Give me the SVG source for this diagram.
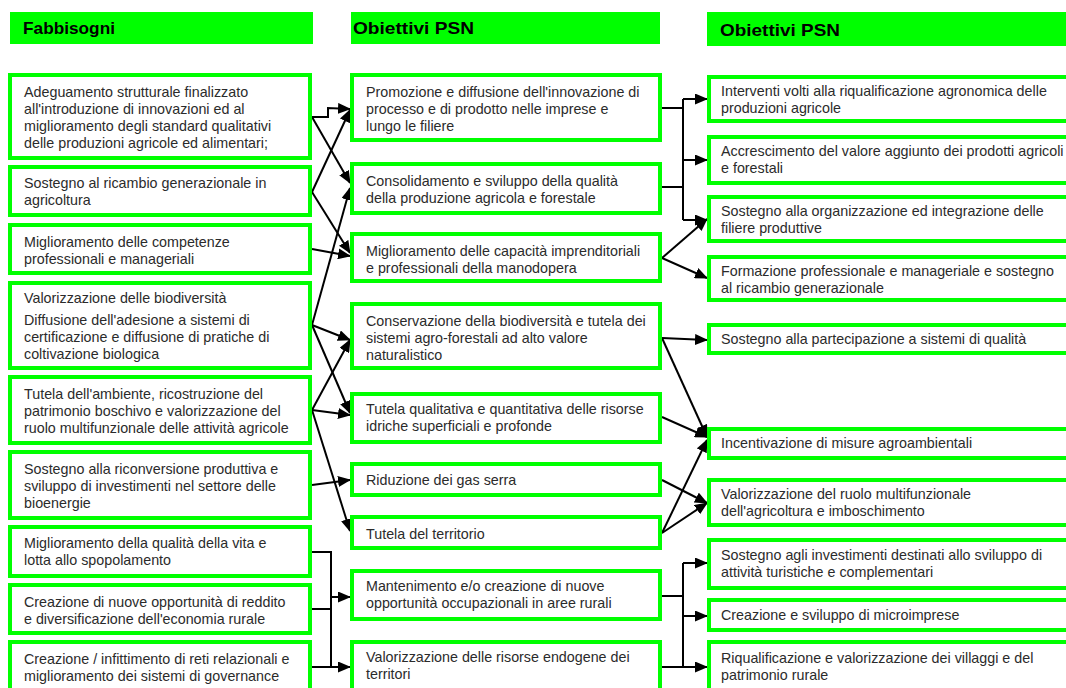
<svg xmlns="http://www.w3.org/2000/svg" width="1066" height="688" viewBox="0 0 1066 688">
<style>
.hdr{fill:#00ff00;stroke:none}
.ht{font-family:"Liberation Sans",Arial,sans-serif;font-weight:bold;font-size:17px;fill:#000}
.box{fill:#fff;stroke:#00ff00;stroke-width:4}
.t{font-family:"Liberation Sans",Arial,sans-serif;font-size:14.3px;fill:#2b2b2b}
.c{fill:none;stroke:#000;stroke-width:2}
.a{marker-end:url(#ah)}
</style>
<defs>
<marker id="ah" markerUnits="userSpaceOnUse" markerWidth="13" markerHeight="11" refX="12" refY="5.5" orient="auto">
<path d="M0,0 L13,5.5 L0,11 Z" fill="#000"/>
</marker>
</defs>
<rect width="1066" height="688" fill="#fff"/>
<g id="headers">
<rect class="hdr" x="10" y="12" width="303" height="32"/>
<text class="ht" x="23" y="34" textLength="92" lengthAdjust="spacingAndGlyphs">Fabbisogni</text>
<rect class="hdr" x="351" y="12" width="309" height="32"/>
<text class="ht" x="353" y="34" textLength="121" lengthAdjust="spacingAndGlyphs">Obiettivi PSN</text>
<rect class="hdr" x="707" y="12" width="370" height="34"/>
<text class="ht" x="720" y="36" textLength="120" lengthAdjust="spacingAndGlyphs">Obiettivi PSN</text>
</g>
<g id="connectors">
<polyline class="c a" points="312,117 328,117 328,108 350,109"/>
<line class="c a" x1="312" y1="192" x2="350" y2="110"/>
<line class="c a" x1="312" y1="117" x2="350" y2="183"/>
<line class="c a" x1="312" y1="325" x2="350" y2="188"/>
<line class="c a" x1="312" y1="192" x2="350" y2="253"/>
<line class="c a" x1="312" y1="249" x2="350" y2="256"/>
<line class="c a" x1="312" y1="325" x2="350" y2="340"/>
<line class="c a" x1="312" y1="325" x2="350" y2="413"/>
<line class="c a" x1="312" y1="410" x2="350" y2="340"/>
<line class="c a" x1="312" y1="410" x2="350" y2="415"/>
<line class="c a" x1="312" y1="410" x2="350" y2="531"/>
<line class="c a" x1="312" y1="485" x2="350" y2="480"/>
<polyline class="c" points="312,552 331,552 331,667"/>
<line class="c" x1="312" y1="609" x2="331" y2="609"/>
<line class="c a" x1="312" y1="667" x2="350" y2="667"/>
<line class="c a" x1="331" y1="597" x2="350" y2="597"/>
<line class="c" x1="662" y1="108" x2="683" y2="108"/>
<line class="c" x1="662" y1="187" x2="683" y2="187"/>
<line class="c" x1="683" y1="99" x2="683" y2="220"/>
<line class="c a" x1="683" y1="99" x2="707" y2="99"/>
<line class="c a" x1="683" y1="160" x2="707" y2="160"/>
<line class="c a" x1="683" y1="220" x2="707" y2="220"/>
<line class="c a" x1="662" y1="258" x2="707" y2="219"/>
<line class="c a" x1="662" y1="258" x2="707" y2="278"/>
<line class="c a" x1="662" y1="338" x2="707" y2="340"/>
<line class="c a" x1="662" y1="338" x2="707" y2="437"/>
<line class="c a" x1="662" y1="417" x2="707" y2="437"/>
<line class="c a" x1="662" y1="480" x2="707" y2="503"/>
<line class="c a" x1="662" y1="533" x2="707" y2="440"/>
<line class="c a" x1="662" y1="533" x2="707" y2="503"/>
<line class="c" x1="662" y1="596" x2="683" y2="596"/>
<line class="c" x1="683" y1="563" x2="683" y2="667"/>
<line class="c a" x1="662" y1="667" x2="707" y2="667"/>
<line class="c a" x1="683" y1="563" x2="707" y2="563"/>
<line class="c a" x1="683" y1="616" x2="707" y2="616"/>
</g>
<g id="L1"><rect class="box" x="10" y="75" width="300" height="83"/><text class="t" x="24" y="97">Adeguamento strutturale finalizzato</text><text class="t" x="24" y="114">all'introduzione di innovazioni ed al</text><text class="t" x="24" y="131">miglioramento degli standard qualitativi</text><text class="t" x="24" y="148">delle produzioni agricole ed alimentari;</text></g>
<g id="L2"><rect class="box" x="10" y="167" width="300" height="48"/><text class="t" x="24" y="188">Sostegno al ricambio generazionale in</text><text class="t" x="24" y="205">agricoltura</text></g>
<g id="L3"><rect class="box" x="10" y="225" width="300" height="48"/><text class="t" x="24" y="247">Miglioramento delle competenze</text><text class="t" x="24" y="264">professionali e manageriali</text></g>
<g id="L4"><rect class="box" x="10" y="283" width="300" height="85"/><text class="t" x="24" y="303">Valorizzazione delle biodiversità</text><text class="t" x="24" y="325">Diffusione dell'adesione a sistemi di</text><text class="t" x="24" y="342">certificazione e diffusione di pratiche di</text><text class="t" x="24" y="359">coltivazione biologica</text></g>
<g id="L5"><rect class="box" x="10" y="377" width="300" height="66"/><text class="t" x="24" y="399">Tutela dell'ambiente, ricostruzione del</text><text class="t" x="24" y="416">patrimonio boschivo e valorizzazione del</text><text class="t" x="24" y="433">ruolo multifunzionale delle attività agricole</text></g>
<g id="L6"><rect class="box" x="10" y="452" width="300" height="66"/><text class="t" x="24" y="474">Sostegno alla riconversione produttiva e</text><text class="t" x="24" y="491">sviluppo di investimenti nel settore delle</text><text class="t" x="24" y="508">bioenergie</text></g>
<g id="L7"><rect class="box" x="10" y="527" width="300" height="49"/><text class="t" x="24" y="548">Miglioramento della qualità della vita e</text><text class="t" x="24" y="565">lotta allo spopolamento</text></g>
<g id="L8"><rect class="box" x="10" y="585" width="300" height="48"/><text class="t" x="24" y="607">Creazione di nuove opportunità di reddito</text><text class="t" x="24" y="624">e diversificazione dell'economia rurale</text></g>
<g id="L9"><rect class="box" x="10" y="642" width="300" height="60"/><text class="t" x="24" y="664">Creazione / infittimento di reti relazionali e</text><text class="t" x="24" y="681">miglioramento dei sistemi di governance</text></g>
<g id="M1"><rect class="box" x="352" y="75" width="308" height="65"/><text class="t" x="366" y="97">Promozione e diffusione dell'innovazione di</text><text class="t" x="366" y="114">processo e di prodotto nelle imprese e</text><text class="t" x="366" y="131">lungo le filiere</text></g>
<g id="M2"><rect class="box" x="352" y="164" width="308" height="49"/><text class="t" x="366" y="186">Consolidamento e sviluppo della qualità</text><text class="t" x="366" y="203">della produzione agricola e forestale</text></g>
<g id="M3"><rect class="box" x="352" y="234" width="308" height="47"/><text class="t" x="366" y="256">Miglioramento delle capacità imprenditoriali</text><text class="t" x="366" y="273">e professionali della manodopera</text></g>
<g id="M4"><rect class="box" x="352" y="304" width="308" height="64"/><text class="t" x="366" y="326">Conservazione della biodiversità e tutela dei</text><text class="t" x="366" y="343">sistemi agro-forestali ad alto valore</text><text class="t" x="366" y="360">naturalistico</text></g>
<g id="M5"><rect class="box" x="352" y="394" width="308" height="48"/><text class="t" x="366" y="414">Tutela qualitativa e quantitativa delle risorse</text><text class="t" x="366" y="431">idriche superficiali e profonde</text></g>
<g id="M6"><rect class="box" x="352" y="464" width="308" height="31"/><text class="t" x="366" y="485">Riduzione dei gas serra</text></g>
<g id="M7"><rect class="box" x="352" y="517" width="308" height="31"/><text class="t" x="366" y="539">Tutela del territorio</text></g>
<g id="M8"><rect class="box" x="352" y="571" width="308" height="48"/><text class="t" x="366" y="591">Mantenimento e/o creazione di nuove</text><text class="t" x="366" y="608">opportunità occupazionali in aree rurali</text></g>
<g id="M9"><rect class="box" x="352" y="642" width="308" height="60"/><text class="t" x="366" y="662">Valorizzazione delle risorse endogene dei</text><text class="t" x="366" y="679">territori</text></g>
<g id="R1"><rect class="box" x="709" y="77" width="370" height="44"/><text class="t" x="721" y="96">Interventi volti alla riqualificazione agronomica delle</text><text class="t" x="721" y="113">produzioni agricole</text></g>
<g id="R2"><rect class="box" x="709" y="137" width="370" height="46"/><text class="t" x="721" y="156">Accrescimento del valore aggiunto dei prodotti agricoli</text><text class="t" x="721" y="173">e forestali</text></g>
<g id="R3"><rect class="box" x="709" y="197" width="370" height="44"/><text class="t" x="721" y="216">Sostegno alla organizzazione ed integrazione delle</text><text class="t" x="721" y="233">filiere produttive</text></g>
<g id="R4"><rect class="box" x="709" y="257" width="370" height="43"/><text class="t" x="721" y="276">Formazione professionale e manageriale e sostegno</text><text class="t" x="721" y="293">al ricambio generazionale</text></g>
<g id="R5"><rect class="box" x="709" y="325" width="370" height="28"/><text class="t" x="721" y="344">Sostegno alla partecipazione a sistemi di qualità</text></g>
<g id="R6"><rect class="box" x="709" y="429" width="370" height="29"/><text class="t" x="721" y="448">Incentivazione di misure agroambientali</text></g>
<g id="R7"><rect class="box" x="709" y="480" width="370" height="45"/><text class="t" x="721" y="499">Valorizzazione del ruolo multifunzionale</text><text class="t" x="721" y="516">dell'agricoltura e imboschimento</text></g>
<g id="R8"><rect class="box" x="709" y="540" width="370" height="48"/><text class="t" x="721" y="560">Sostegno agli investimenti destinati allo sviluppo di</text><text class="t" x="721" y="577">attività turistiche e complementari</text></g>
<g id="R9"><rect class="box" x="709" y="600" width="370" height="30"/><text class="t" x="721" y="620">Creazione e sviluppo di microimprese</text></g>
<g id="R10"><rect class="box" x="709" y="642" width="370" height="60"/><text class="t" x="721" y="663">Riqualificazione e valorizzazione dei villaggi e del</text><text class="t" x="721" y="680">patrimonio rurale</text></g>
</svg>
